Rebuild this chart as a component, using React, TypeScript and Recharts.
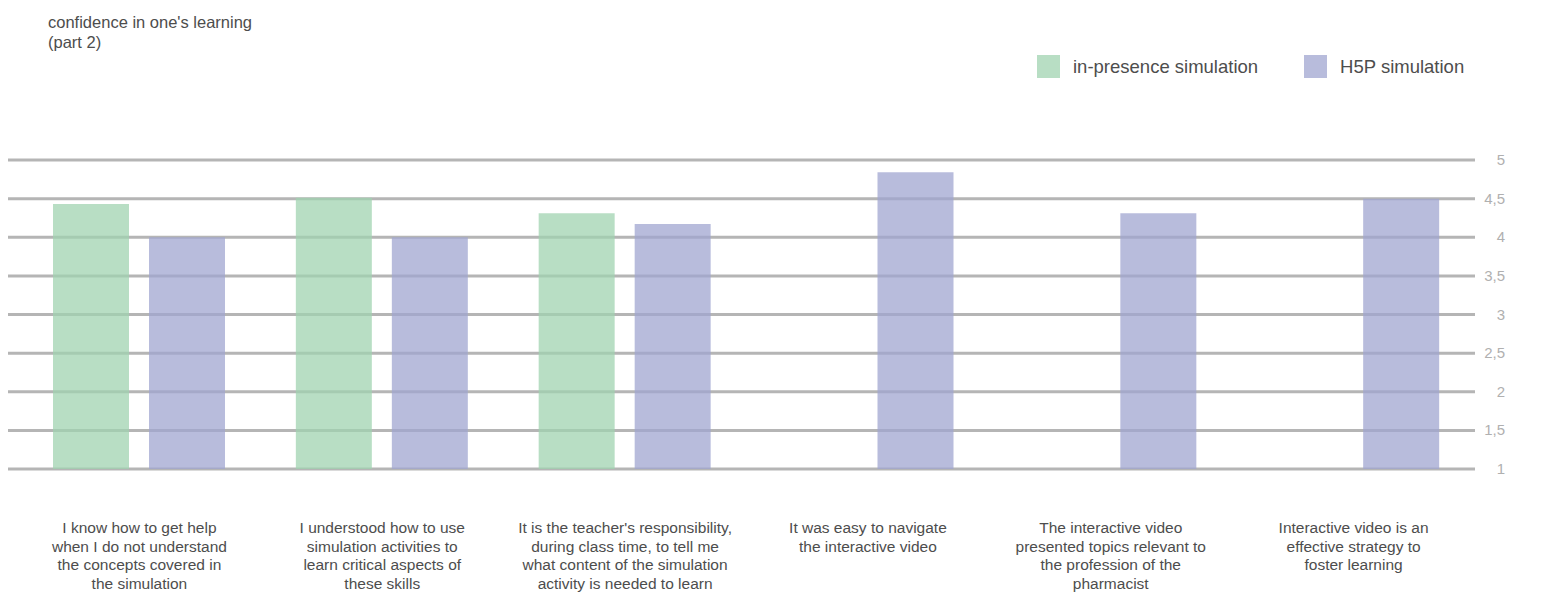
import React from "react";
import { BarChart, Bar, XAxis, YAxis, CartesianGrid, Legend } from "recharts";

const categories = [
  "I know how to get help\nwhen I do not understand\nthe concepts covered in\nthe simulation",
  "I understood how to use\nsimulation activities to\nlearn critical aspects of\nthese skills",
  "It is the teacher's responsibility,\nduring class time, to tell me\nwhat content of the simulation\nactivity is needed to learn",
  "It was easy to navigate\nthe interactive video",
  "The interactive video\npresented topics relevant to\nthe profession of the\npharmacist",
  "Interactive video is an\neffective strategy to\nfoster learning",
];
const inPresence: (number | null)[] = [4.43, 4.51, 4.31, null, null, null];
const h5p: number[] = [4.0, 4.0, 4.17, 4.84, 4.31, 4.5];
const yTicks = [1, 1.5, 2, 2.5, 3, 3.5, 4, 4.5, 5];
const seriesNames = ["in-presence simulation", "H5P simulation"];
const legendSwatches = ["#b8dec4", "#b8bcdc"];
const titleLines = ["confidence in one's learning", "(part 2)"];

const data = categories.map((c, i) => ({ name: c, a: inPresence[i], b: h5p[i] }));

const FONT = "'Liberation Sans', Arial, sans-serif";
const GREEN = "#a0d3b0";
const PURPLE = "#a0a6d0";

const XTick = (props: any) => {
  const { x, y, payload } = props;
  const lines = String(payload.value).split("\n");
  return (
    <text x={x} y={y} textAnchor="middle" fill="#4d4d4d" fontSize={15.5} fontFamily={FONT}>
      {lines.map((l, i) => (
        <tspan key={i} x={x} y={y + 64 + i * 18.7}>{l}</tspan>
      ))}
    </text>
  );
};

const YTick = (props: any) => {
  const { x, y, payload } = props;
  return (
    <text x={x + 30} y={y + 5} textAnchor="end" fill="#b0b0b0" fontSize={15} fontFamily={FONT}>
      {String(payload.value).replace(".", ",")}
    </text>
  );
};

const LegendContent = (props: any) => {
  const payload = [...(props.payload || [])].sort(
    (p: any, q: any) => seriesNames.indexOf(p.value) - seriesNames.indexOf(q.value)
  );
  return (
    <div style={{ display: "flex", fontFamily: FONT, fontSize: 18.5, color: "#4d4d4d" }}>
      {payload.map((p: any, i: number) => (
        <div key={i} style={{ display: "flex", alignItems: "center", marginRight: 46 }}>
          <div style={{ width: 23, height: 23, background: legendSwatches[seriesNames.indexOf(p.value)], marginRight: 13 }} />
          <span>{p.value}</span>
        </div>
      ))}
    </div>
  );
};

export default function App() {
  return (
    <div style={{ position: "absolute", left: 0, top: 0, width: 1548, height: 592, background: "#fff", overflow: "hidden" }}>
      <div style={{ position: "absolute", left: 48, top: 12, fontFamily: FONT, fontSize: 16.5, lineHeight: "20px", color: "#4d4d4d" }}>
        {titleLines.map((t, i) => (
          <div key={i}>{t}</div>
        ))}
      </div>
      <div style={{ position: "absolute", left: 0, top: 0 }}>
        <BarChart width={1548} height={592} data={data} margin={{ top: 160, right: 0, left: 8, bottom: 0 }} barSize={76} barGap={20}>
          <CartesianGrid vertical={false} stroke="#b5b5b5" strokeWidth={3} />
          <XAxis dataKey="name" height={123} tick={<XTick />} tickLine={false} axisLine={false} tickSize={0} tickMargin={0} interval={0} padding={{ left: 10, right: 0 }} />
          <YAxis orientation="right" width={73} domain={[1, 5]} ticks={yTicks} tick={<YTick />} tickLine={false} axisLine={false} tickSize={0} tickMargin={0} />
          <Legend layout="horizontal" verticalAlign="middle" align="center" content={<LegendContent />} wrapperStyle={{ position: "absolute", top: 55, left: 1037, width: 500, height: 24 }} />
          <Bar dataKey="a" name={seriesNames[0]} fill={GREEN} fillOpacity={0.75} isAnimationActive={false} />
          <Bar dataKey="b" name={seriesNames[1]} fill={PURPLE} fillOpacity={0.75} isAnimationActive={false} />
        </BarChart>
      </div>
    </div>
  );
}
